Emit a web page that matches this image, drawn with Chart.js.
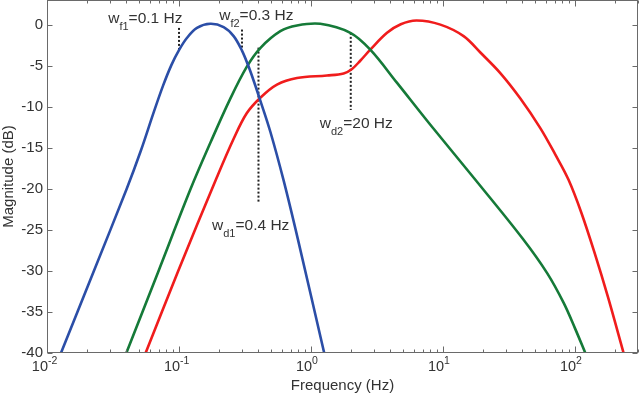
<!DOCTYPE html>
<html>
<head>
<meta charset="utf-8">
<script src="https://cdn.jsdelivr.net/npm/chart.js@4"></script>
<style>
html,body{margin:0;padding:0;background:#fff;}
#wrap{width:640px;height:397px;position:relative;}
</style>
</head>
<body>
<div id="wrap"><canvas id="c"></canvas></div>
<script>
// ---- data ----
const blueFreq = [0.01276,0.02265,0.04018,0.05129,0.06457,0.07586,0.08770,0.1,0.1151,0.1368,0.1726,0.2178,0.2594,0.2999,0.3311,0.3673,0.4130,0.4920,0.6194,0.7943,1.259];
const blueDb   = [-40,-30,-20,-15.4,-10.6,-7.4,-4.9,-3.1,-1.6,-0.4,0.1,-0.3,-1.4,-3.16,-4.8,-6.8,-9.25,-13.05,-18.95,-26.1,-40];

const greenFreq = [0.0399,0.0700,0.1225,0.1738,0.2432,0.3258,0.4130,0.5861,0.7834,1.175,1.986,2.812,4.487,8.017,17.58,39.81,61.66,82.04,100,119.7];
const greenDb   = [-40,-30,-20,-14.3,-9.1,-5.15,-2.85,-0.8,-0.1,0.1,-1.0,-3.05,-7.1,-12.2,-18.9,-26.0,-30.3,-33.9,-37,-40];

const redFreq = [0.05585,0.0986,0.1936,0.2594,0.3258,0.4130,0.5521,0.7834,1.321,1.766,2.046,2.360,2.812,3.767,4.786,6.310,9.550,14.32,19.19,27.16,38.55,54.58,70.79,89.33,112.2,141.3,177.8,233.3];
const redDb   = [-40,-30,-18.6,-13.9,-10.8,-8.9,-7.3,-6.5,-6.2,-5.95,-5.4,-4.4,-3.05,-1.0,0.05,0.5,0,-1.4,-3.4,-5.9,-9.0,-12.6,-15.8,-18.9,-23.0,-27.9,-33.2,-40];

const markerFreq   = [0.1, 0.3, 0.4, 2];
const markerTop    = [-0.4, -0.6, -2.8, -1.0];
const markerBottom = [-3.2, -3.05, -21.7, -10.4];

const labelMain = ['w','w','w','w'];
const labelSub  = ['f1','f2','d1','d2'];
const labelRest = ['=0.1 Hz','=0.3 Hz','=0.4 Hz','=20 Hz'];
const labelFreq = [0.0291, 0.2018, 0.178, 1.166];
const labelDb   = [0.16, 0.56, -25.0, -12.6];

const xTickValues = [0.01, 0.1, 1, 10, 100];
const xTickExp    = ['-2','-1','0','1','2'];
const yTickValues = [-40,-35,-30,-25,-20,-15,-10,-5,0];

const xMin = 0.01, xMax = 300, yMin = -40, yMax = 3;

// ---- build ----
const FONT = '"Liberation Sans", Arial, Helvetica, sans-serif';
const TXT = '#333333';
const AX = '#6a6a6a';
const pts = (xs, ys) => xs.map((x,i)=>({x:x, y:ys[i]}));

const curve = (data, color) => ({
  data: data, borderColor: color, borderWidth: 2.6, pointRadius: 0,
  fill: false, tension: 0.35
});

const datasets = [
  curve(pts(blueFreq, blueDb), '#2b4ea7'),
  curve(pts(greenFreq, greenDb), '#157a38'),
  curve(pts(redFreq, redDb), '#f01c1c')
];
markerFreq.forEach((f,i)=>{
  datasets.push({
    data: [{x:f,y:markerTop[i]},{x:f,y:markerBottom[i]}],
    borderColor: '#222', borderWidth: 2, borderDash: [2,2], pointRadius: 0, fill:false
  });
});

const noPad = s => { s.paddingTop = 0; s.paddingBottom = 0; s.paddingLeft = 0; s.paddingRight = 0; };

const decor = {
  id: 'decor',
  beforeDraw(chart){
    const c = chart.ctx;
    c.save(); c.fillStyle = '#fff'; c.fillRect(0,0,chart.width,chart.height); c.restore();
  },
  afterDatasetsDraw(chart){
    const c = chart.ctx, a = chart.chartArea, xs = chart.scales.x, ys = chart.scales.y;
    c.save();
    c.fillStyle = TXT; c.textBaseline = 'alphabetic'; c.textAlign = 'left';
    labelMain.forEach((m,i)=>{
      let x = xs.getPixelForValue(labelFreq[i]);
      const y = ys.getPixelForValue(labelDb[i]);
      c.font = '15.5px ' + FONT; c.fillText(m, x, y); x += c.measureText(m).width;
      c.font = '11px ' + FONT; c.fillText(labelSub[i], x, y + 7); x += c.measureText(labelSub[i]).width;
      c.font = '15.5px ' + FONT; c.fillText(labelRest[i], x, y);
    });
    const L = Math.round(a.left)+0.5, R = Math.round(a.right)-0.5, T = Math.round(a.top)+0.5, B = Math.round(a.bottom)-0.5;
    c.strokeStyle = AX; c.lineWidth = 1;
    c.strokeRect(L, T, R-L, B-T);
    c.beginPath();
    for (let d = -2; d <= 2; d++) {
      for (let k = 1; k <= 9; k++) {
        const v = k * Math.pow(10, d);
        if (v < xMin || v > xMax) continue;
        const px = Math.round(xs.getPixelForValue(v)) + 0.5;
        const len = (k === 1) ? 6 : 3;
        c.moveTo(px, B); c.lineTo(px, B - len);
        c.moveTo(px, T); c.lineTo(px, T + len);
      }
    }
    yTickValues.forEach(v=>{
      const py = Math.round(ys.getPixelForValue(v)) + 0.5;
      c.moveTo(L, py); c.lineTo(L + 5, py);
      c.moveTo(R, py); c.lineTo(R - 5, py);
    });
    c.stroke();
    c.fillStyle = TXT;
    xTickValues.forEach((v,i)=>{
      const px = xs.getPixelForValue(v);
      c.font = '14.5px ' + FONT; c.textAlign = 'right'; c.fillText('10', px + 1, 371);
      c.font = '10.5px ' + FONT; c.textAlign = 'left'; c.fillText(xTickExp[i], px + 1, 364);
    });
    c.restore();
  }
};

new Chart(document.getElementById('c'), {
  type: 'line',
  data: { datasets: datasets },
  plugins: [decor],
  options: {
    responsive: true, maintainAspectRatio: false, animation: false,
    events: [],
    layout: { padding: { top: 0, right: 2, bottom: 0, left: 0 } },
    plugins: { legend: { display: false }, tooltip: { enabled: false } },
    scales: {
      x: {
        type: 'logarithmic', min: xMin, max: xMax,
        grid: { display: false, drawTicks: false }, border: { display: false },
        ticks: { display: false },
        title: { display: true, text: 'Frequency (Hz)', color: TXT, font: { family: FONT, size: 15 }, padding: { top: 0, bottom: 2 } },
        afterFit(s){ s.height = 44; noPad(s); }
      },
      y: {
        type: 'linear', min: yMin, max: yMax,
        grid: { display: false, drawTicks: false }, border: { display: false },
        afterBuildTicks(s){ s.ticks = yTickValues.map(v=>({value:v})); },
        ticks: { color: TXT, font: { family: FONT, size: 15 }, padding: 4, callback: v => String(v) },
        title: { display: true, text: 'Magnitude (dB)', color: TXT, font: { family: FONT, size: 15 }, padding: { top: 0, bottom: 0 } },
        afterFit(s){ s.width = 47; noPad(s); }
      }
    }
  }
});
</script>
</body>
</html>
